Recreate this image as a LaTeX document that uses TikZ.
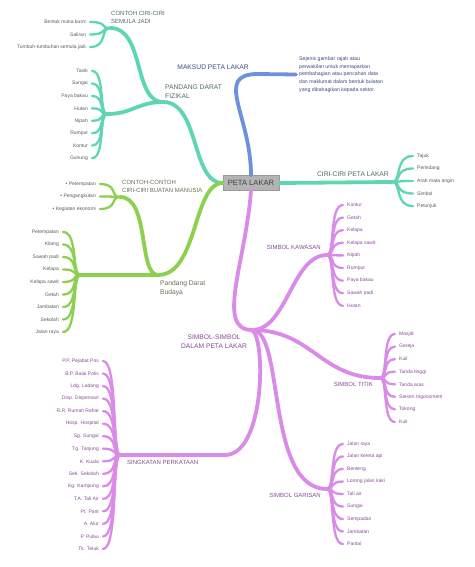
\documentclass[tikz,border=0pt]{standalone}
\usepackage{fontspec}
\setmainfont{Liberation Sans}
\usepackage{tikz}
\usetikzlibrary{positioning,calc}
\definecolor{tealbr}{RGB}{94,214,180}
\definecolor{greenbr}{RGB}{140,208,80}
\definecolor{bluebr}{RGB}{110,145,220}
\definecolor{purpbr}{RGB}{218,138,232}
\definecolor{rootgrey}{RGB}{180,180,180}
\definecolor{leafgrey}{RGB}{85,92,92}
\definecolor{tealtext}{RGB}{80,108,100}
\definecolor{greentext}{RGB}{100,112,88}
\definecolor{bluetext}{RGB}{60,74,128}
\definecolor{purptext}{RGB}{135,75,150}

\begin{document}
\begin{tikzpicture}[x=1pt, y=-1pt,
    root/.style={rectangle, fill=rootgrey, draw=rootgrey!85!black, line width=0.3pt, minimum width=56pt, minimum height=15pt, inner sep=0pt, font=\fontsize{7.6}{9}\selectfont, text=black!75},
    topic/.style={inner sep=0pt, align=left, font=\fontsize{6.7}{8.8}\selectfont},
    subtopic/.style={inner sep=0pt, align=left, font=\fontsize{6}{8}\selectfont},
    leafr/.style={anchor=west, inner xsep=4pt, inner ysep=0pt, font=\fontsize{5}{6}\selectfont},
    leafl/.style={anchor=east, inner xsep=4pt, inner ysep=0pt, font=\fontsize{5}{6}\selectfont},
    branch/.style={line width=3.8pt, line cap=round},
    twig/.style={line width=2.3pt, line cap=round}
]
\useasboundingbox (0,0) rectangle (474,567);

\node[root] (peta) at (251,183) {PETA LAKAR};

\coordinate (fizhub) at (163,102);
\coordinate (semhub) at (110,28);
\coordinate (fizfan) at (107,114);
\coordinate (cirihub) at (392,182);
\coordinate (maksudhub) at (258,74);
\coordinate (budhub) at (158,275);
\coordinate (buathub) at (120,197);
\coordinate (budfan) at (80,275);
\coordinate (simhub) at (252,330);
\coordinate (kawhub) at (327,255);
\coordinate (titikhub) at (380,378);
\coordinate (garhub) at (327,489);
\coordinate (sgbend) at (225,455);
\coordinate (sgkhub) at (120,455);

% maksud
\node[anchor=west, inner xsep=3pt, inner ysep=0pt, align=left, text=bluetext, font=\fontsize{5.2}{7.7}\selectfont] (maksuddesc) at (296,74.5) {Sejenis gambar rajah atau\\perwakilan untuk memaparkan\\pembahagian atau pencahan data\\dan maklumat dalam bentuk bulatan\\yang dibahagikan kepada sektor.};
\draw[branch, bluebr] (peta.north) .. controls +(0,-60) and +(-45,0) .. (maksudhub) -- (maksuddesc.west);
\node[topic, anchor=east, text=bluetext] (maksud) at (249,67) {MAKSUD PETA LAKAR};

% pandang darat fizikal
\draw[branch, tealbr] (peta.west) .. controls +(-32,0) and +(37,0) .. (fizhub);
\draw[branch, tealbr] (fizhub) .. controls +(-30,0) and +(35,0) .. (semhub);
\draw[branch, tealbr] (fizhub) .. controls +(-25,0) and +(25,0) .. (fizfan);
\node[topic, anchor=west, text=tealtext] (fizikal) at (165,91.5) {PANDANG DARAT\\FIZIKAL};
\node[subtopic, anchor=west, text=tealtext] (semula) at (111,17) {CONTOH CIRI-CIRI\\SEMULA JADI};
\foreach \w [count=\i] in {Bentuk muka bumi,Saliran,Tumbuh-tumbuhan semula jadi} {
  \node[leafl, text=leafgrey] (sem\i) at (90,{22+12.5*(\i-1)}) {\w};
  \draw[twig, tealbr] (semhub) .. controls +(-10,0) and +(18,0) .. (sem\i.east);
}
\foreach \w [count=\i] in {Tasik,Sungai,Paya bakau,Hutan,Nipah,Rumput,Kontur,Gunung} {
  \node[leafl, text=leafgrey] (fiz\i) at (92,{71+12.45*(\i-1)}) {\w};
  \draw[twig, tealbr] (fizfan) .. controls +(-8,0) and +(13,0) .. (fiz\i.east);
}

% ciri-ciri
\draw[branch, tealbr] (peta.east) -- (cirihub);
\node[topic, anchor=east, text=tealtext] (ciri) at (389,174) {CIRI-CIRI PETA LAKAR};
\foreach \w [count=\i] in {Tajuk,Pemidang,Arah mata angin,Simbol,Petunjuk} {
  \node[leafr, text=leafgrey] (ciri\i) at (413,{156+12.5*(\i-1)}) {\w};
  \draw[twig, tealbr] (cirihub) .. controls +(10,0) and +(-19,0) .. (ciri\i.west);
}

% pandang darat budaya
\draw[branch, greenbr] (peta.west) .. controls +(-30,0) and +(40,0) .. (budhub);
\draw[branch, greenbr] (budhub) .. controls +(-20,0) and +(30,0) .. (buathub);
\draw[branch, greenbr] (budhub) -- (budfan);
\node[topic, anchor=west, text=greentext] (budaya) at (160,288.5) {Pandang Darat\\Budaya};
\node[subtopic, anchor=west, text=greentext] (buatan) at (122,186) {CONTOH-CONTOH\\CIRI-CIRI BUATAN MANUSIA};
\foreach \w [count=\i] in {Petempatan,Pengangkutan,Kegiatan ekonomi} {
  \node[leafl, text=leafgrey] (buat\i) at (100,{184+12.5*(\i-1)}) {\textbullet{} \w};
  \draw[twig, greenbr] (buathub) .. controls +(-10,0) and +(18,0) .. (buat\i.east);
}
\foreach \w [count=\i] in {Petempatan,Kilang,Sawah padi,Kelapa,Kelapa sawit,Getah,Jambatan,Sekolah,Jalan raya} {
  \node[leafl, text=leafgrey] (bud\i) at (63,{232+12.5*(\i-1)}) {\w};
  \draw[twig, greenbr] (budfan) .. controls +(-8,0) and +(15,0) .. (bud\i.east);
}

% simbol-simbol
\draw[branch, purpbr] (peta.south) .. controls +(-5,70) and +(-37,0) .. (simhub);
\draw[branch, purpbr] (simhub) .. controls +(35,0) and +(-35,0) .. (kawhub);
\draw[branch, purpbr] (simhub) .. controls +(60,0) and +(-60,0) .. (titikhub);
\draw[branch, purpbr] (simhub) .. controls +(33,0) and +(-62,0) .. (garhub);
\draw[branch, purpbr] (simhub) .. controls +(14,8) and +(40,0) .. (sgbend) -- (sgkhub);
\node[topic, align=center, text=purptext] (simbol) at (214,342) {SIMBOL-SIMBOL\\DALAM PETA LAKAR};
\node[subtopic, anchor=east, text=purptext] (kawasan) at (321,247.5) {SIMBOL KAWASAN};
\node[subtopic, anchor=east, text=purptext] (titik) at (373,384.5) {SIMBOL TITIK};
\node[subtopic, anchor=east, text=purptext] (garisan) at (321,495.5) {SIMBOL GARISAN};
\node[subtopic, anchor=west, text=purptext] (singkatan) at (127,462.5) {SINGKATAN PERKATAAN};
\foreach \w [count=\i] in {Kontur,Getah,Kelapa,Kelapa sawit,Nipah,Rumput,Paya bakau,Sawah padi,Hutan} {
  \node[leafr, text=purptext] (kaw\i) at (343,{205+12.6*(\i-1)}) {\w};
  \draw[twig, purpbr] (kawhub) .. controls +(8,0) and +(-14,0) .. (kaw\i.west);
}
\foreach \w [count=\i] in {Masjid,Gereja,Kuil,Tanda tinggi,Tanda aras,Stesen trigonometri,Tokong,Kuil} {
  \node[leafr, text=purptext] (tit\i) at (395,{334+12.57*(\i-1)}) {\w};
  \draw[twig, purpbr] (titikhub) .. controls +(8,0) and +(-13,0) .. (tit\i.west);
}
\foreach \w [count=\i] in {Jalan raya,Jalan kereta api,Benteng,Lorong jalan kaki,Tali air,Sungai,Sempadan,Jambatan,Pantai} {
  \node[leafr, text=purptext] (gar\i) at (343,{444+12.5*(\i-1)}) {\w};
  \draw[twig, purpbr] (garhub) .. controls +(8,0) and +(-14,0) .. (gar\i.west);
}
\foreach \w [count=\i] in {P.P. Pejabat Pos,B.P. Balai Polis,Ldg. Ladang,Disp. Dispensari,R.R. Rumah Rehat,Hosp. Hospital,Sg. Sungai,Tg. Tanjung,K. Kuala,Sek. Sekolah,Kg. Kampung,T.A. Tali Air,Pt. Parit,A. Alur,P. Pulau,Tk. Teluk} {
  \node[leafl, text=purptext] (sgk\i) at (103,{361+12.53*(\i-1)}) {\w};
  \draw[twig, purpbr] (sgkhub) .. controls +(-8,0) and +(15,0) .. (sgk\i.east);
}
\end{tikzpicture}
\end{document}
